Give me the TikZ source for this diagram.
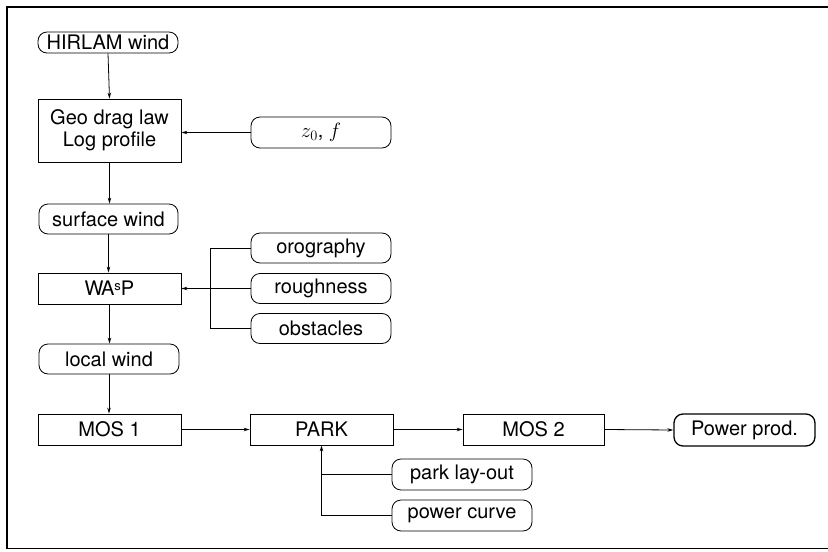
\documentclass[tikz,border=0pt]{standalone}
\usepackage{fontspec}
\setmainfont{TeX Gyre Heros}
\usetikzlibrary{arrows.meta}
\begin{document}
\begin{tikzpicture}[x=1pt,y=-1pt,
  every node/.style={font=\fontsize{20}{22}\selectfont, inner sep=0pt},
  procbox/.style={draw, line width=0.8pt, minimum width=143pt, minimum height=31pt, align=center},
  databox/.style={draw, line width=0.8pt, rounded corners=9pt, minimum width=140pt, minimum height=30pt},
  conn/.style={line width=0.8pt},
  arr/.style={conn, -{Stealth[length=6pt,width=3.5pt]}}]
\useasboundingbox (0,0) rectangle (828,552);
\draw[line width=1.6pt] (828,7) -- (7,7) -- (7,548.5) -- (828,548.5);

\node[databox, minimum height=21pt] (hirlam) at (108,42.5) {HIRLAM wind};
\node[procbox, minimum height=63pt] (geo) at (109.5,130.5) {Geo drag law\\Log profile};
\node[databox, minimum height=31pt] (z0f) at (321,132.5) {$z_0$, $f$};
\node[databox, minimum width=139pt] (surf) at (108.5,219) {surface wind};
\node[databox] (orog) at (321,248) {orography};
\node[procbox] (wasp) at (109.5,288.5) {W\kern-2.5pt A\raisebox{5pt}{\fontsize{13}{14}\selectfont s}P};
\node[databox] (rough) at (321,288.5) {roughness};
\node[databox] (obst) at (321,328.5) {obstacles};
\node[databox] (local) at (109,359) {local wind};
\node[procbox] (mos1) at (109.5,429.5) {MOS 1};
\node[procbox] (park) at (321.5,429.5) {PARK};
\node[procbox, minimum width=141pt] (mos2) at (533.5,429.5) {MOS 2};
\node[databox, line width=1.3pt, minimum width=141pt, minimum height=32pt] (power) at (744.5,430) {Power prod.};
\node[databox, minimum height=31pt] (layout) at (462,474.5) {park lay-out};
\node[databox, minimum height=31pt] (pcurve) at (462,515.5) {power curve};

\coordinate (jw) at (210,248);
\coordinate (jp) at (321.5,474.5);

\draw[arr] (hirlam.south) -- (geo.north);
\draw[arr] (z0f.west) -- (z0f.west -| geo.east);
\draw[arr] (geo.south) -- (geo.south |- surf.north);
\draw[arr] (surf.south) -- (surf.south |- wasp.north);
\draw[conn] (orog.west) -- (jw) |- (obst.west);
\draw[arr] (rough.west) -- (wasp.east);
\draw[arr] (wasp.south) -- (wasp.south |- local.north);
\draw[arr] (local.south) -- (local.south |- mos1.north);
\draw[arr] (mos1.east) -- (park.west);
\draw[arr] (park.east) -- (mos2.west);
\draw[arr] (mos2.east) -- (power.west);
\draw[conn] (layout.west) -- (jp);
\draw[arr] (pcurve.west) -| (park.south);
\end{tikzpicture}
\end{document}
